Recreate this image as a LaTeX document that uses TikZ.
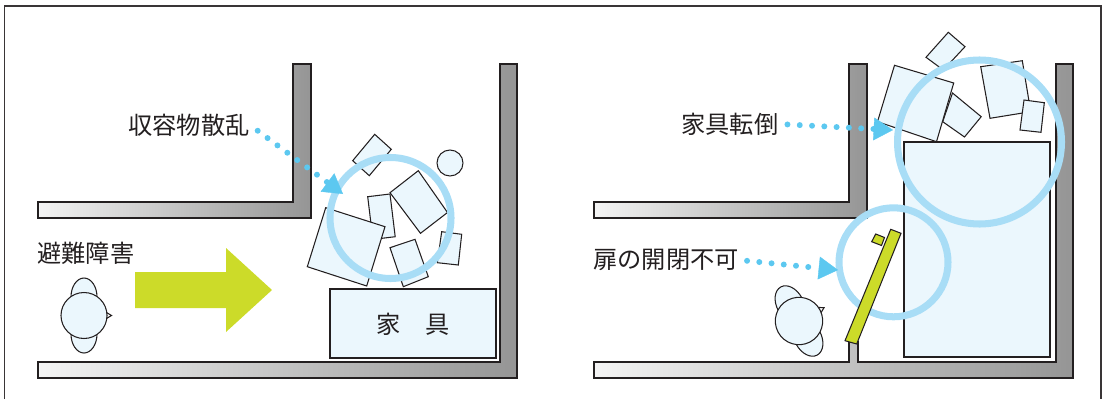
\documentclass[tikz,border=0pt]{standalone}
\usepackage{fontspec}
\newfontfamily\jpfont{Noto Sans CJK JP}
\usetikzlibrary{
  arrows.meta % 三角箭头
}

\definecolor{boxfill}{HTML}{EBF7FD}
\definecolor{ringblue}{HTML}{A8DDF6}
\definecolor{dotblue}{HTML}{5CC8F0}
\definecolor{leafgreen}{HTML}{CCDB29}
\definecolor{wallgray}{HTML}{959595}
\definecolor{walllight}{HTML}{F4F4F4}
\definecolor{inkgray}{HTML}{231F20}

\tikzset{
  frameline/.style={draw=inkgray!90, line width=0.9pt},
  wall/.style={draw=inkgray, line width=0.7pt, left color=walllight, right color=wallgray},
  obj/.style={draw=inkgray, fill=boxfill, line width=0.6pt, line join=miter},
  ring/.style={draw=ringblue, line width=4pt},
  dotline/.style={draw=dotblue, line width=3.4pt, line cap=round,
    dash pattern=on 0pt off 7pt,
    -{Triangle[length=11pt, width=13pt, line width=0.2pt]}},
  jtext/.style={font=\jpfont\fontsize{13.8pt}{16pt}\selectfont, text=inkgray, inner sep=0pt},
  % 俯视的人：肩、鼻、头
  pics/person/.style={code={
    \filldraw[obj] (0,-18.5) ellipse [x radius=13, y radius=19];
    \filldraw[obj] (0,18.5) ellipse [x radius=13, y radius=19];
    \filldraw[obj, fill=white] (22.5,-3) -- (27.5,0) -- (22.5,3) -- cycle;
    \filldraw[obj] (0,0) circle [radius=23];
  }}
}

\begin{document}
\begin{tikzpicture}[x=0.02cm, y=-0.02cm]
  \useasboundingbox (0,0) rectangle (1108,399);
  % 外框（下边敞开）
  \draw[frameline] (4.5,399) -- (4.5,6) -- (1101,6) -- (1101,399);

  % ===== 左图：收容物散乱 =====
  % 墙体
  \shadedraw[wall] (38,202) -- (293,202) -- (293,64) -- (311,64) -- (311,218) -- (38,218) -- cycle;
  \shadedraw[wall] (38,362) -- (500,362) -- (500,64) -- (517,64) -- (517,378) -- (38,378) -- cycle;

  % 家具
  \filldraw[obj, line width=0.9pt] (330,289) rectangle (496,358);
  \node[jtext] (kagu) at (413,324) {家　具};

  % 散落的物品
  \filldraw[obj] (450,163) circle [radius=13];
  \filldraw[obj] (352.7,160.7) -- (374.7,134.3) -- (391.3,149.3) -- (369.3,175.7) -- cycle;
  \filldraw[obj] (367.7,196.7) -- (390,194) -- (395.2,236.7) -- (372.9,239.4) -- cycle;
  \filldraw[obj] (307.3,266.7) -- (325.7,207.7) -- (385,226.7) -- (366.7,286) -- cycle;
  \filldraw[obj] (390,192.7) -- (418.3,170.7) -- (447.5,212.5) -- (420.5,233.3) -- cycle;
  \filldraw[obj] (441.7,231.7) -- (461.7,234.3) -- (458.3,265) -- (437.3,262.7) -- cycle;
  \filldraw[obj] (390,247.7) -- (415,239.3) -- (428.3,276.7) -- (403.3,286.7) -- cycle;

  % 圆环
  \draw[ring] (390.5,218) circle [radius=60.5];

  % 避难方向的大箭头
  \fill[leafgreen] (135,272) -- (226,272) -- (226,248) -- (272,290)
    -- (226,332) -- (226,308) -- (135,308) -- cycle;

  % 人
  \pic at (84,315.5) {person};

  % 文字与点线箭头
  \node[jtext, anchor=west] (hinan) at (37,253) {避難障害};
  \node[jtext, anchor=west] (sanran) at (128,125) {収容物散乱};
  \coordinate (sanranTip) at (343,194);
  \draw[dotline, shorten <=5.5pt] (sanran.east) -- (sanranTip);

  % ===== 右图：家具転倒・扉の開閉不可 =====
  % 墙体（门框处留出短墙）
  \shadedraw[wall] (594,202) -- (849,202) -- (849,64) -- (867,64) -- (867,218) -- (594,218) -- cycle;
  \shadedraw[wall] (594,362) -- (849,362) -- (849,342) -- (858,342) -- (858,362) -- (1056,362)
    -- (1056,64) -- (1073,64) -- (1073,378) -- (594,378) -- cycle;

  % 倒下的高柜
  \filldraw[obj, line width=0.9pt] (904,142) rectangle (1050,357);

  % 柜上掉落的物品
  \filldraw[obj] (952.5,93) -- (981.2,116.7) -- (964.5,137) -- (942.7,121.7) -- cycle;
  \filldraw[obj] (894.5,65.3) -- (953.7,83) -- (936.5,141.7) -- (877.5,121.7) -- cycle;
  \filldraw[obj] (926,57.3) -- (948.3,32.3) -- (965,46.7) -- (943.3,70) -- cycle;
  \filldraw[obj] (980.7,66.7) -- (1022.3,60.7) -- (1030.7,111.7) -- (990,118.3) -- cycle;
  \filldraw[obj] (1024,100) -- (1044.3,102.7) -- (1041,132.3) -- (1020,130) -- cycle;

  % 圆环
  \draw[ring] (979.5,142) circle [radius=82];
  \draw[ring] (893.5,262.3) circle [radius=54.5];

  % 被堵住的门与把手
  \filldraw[obj, fill=leafgreen] (845,340.7) -- (890.7,229.3) -- (901,233.3) -- (856.7,344) -- cycle;
  \filldraw[obj, fill=leafgreen] (871.7,241.7) -- (875.7,234) -- (884.5,237.5) -- (881.5,245.5) -- cycle;

  % 人
  \pic[rotate=28, scale=1.03] at (799,321) {person};

  % 文字与点线箭头
  \node[jtext, anchor=west] (tentou) at (681,124) {家具転倒};
  \coordinate (tentouTip) at (893,130);
  \draw[dotline, shorten <=5pt] (tentou.east) -- (tentouTip);

  \node[jtext, anchor=west] (tobira) at (593,260) {扉の開閉不可};
  \coordinate (tobiraTip) at (838,270);
  \draw[dotline, shorten <=4.5pt] (tobira.east) -- (tobiraTip);
\end{tikzpicture}
\end{document}
